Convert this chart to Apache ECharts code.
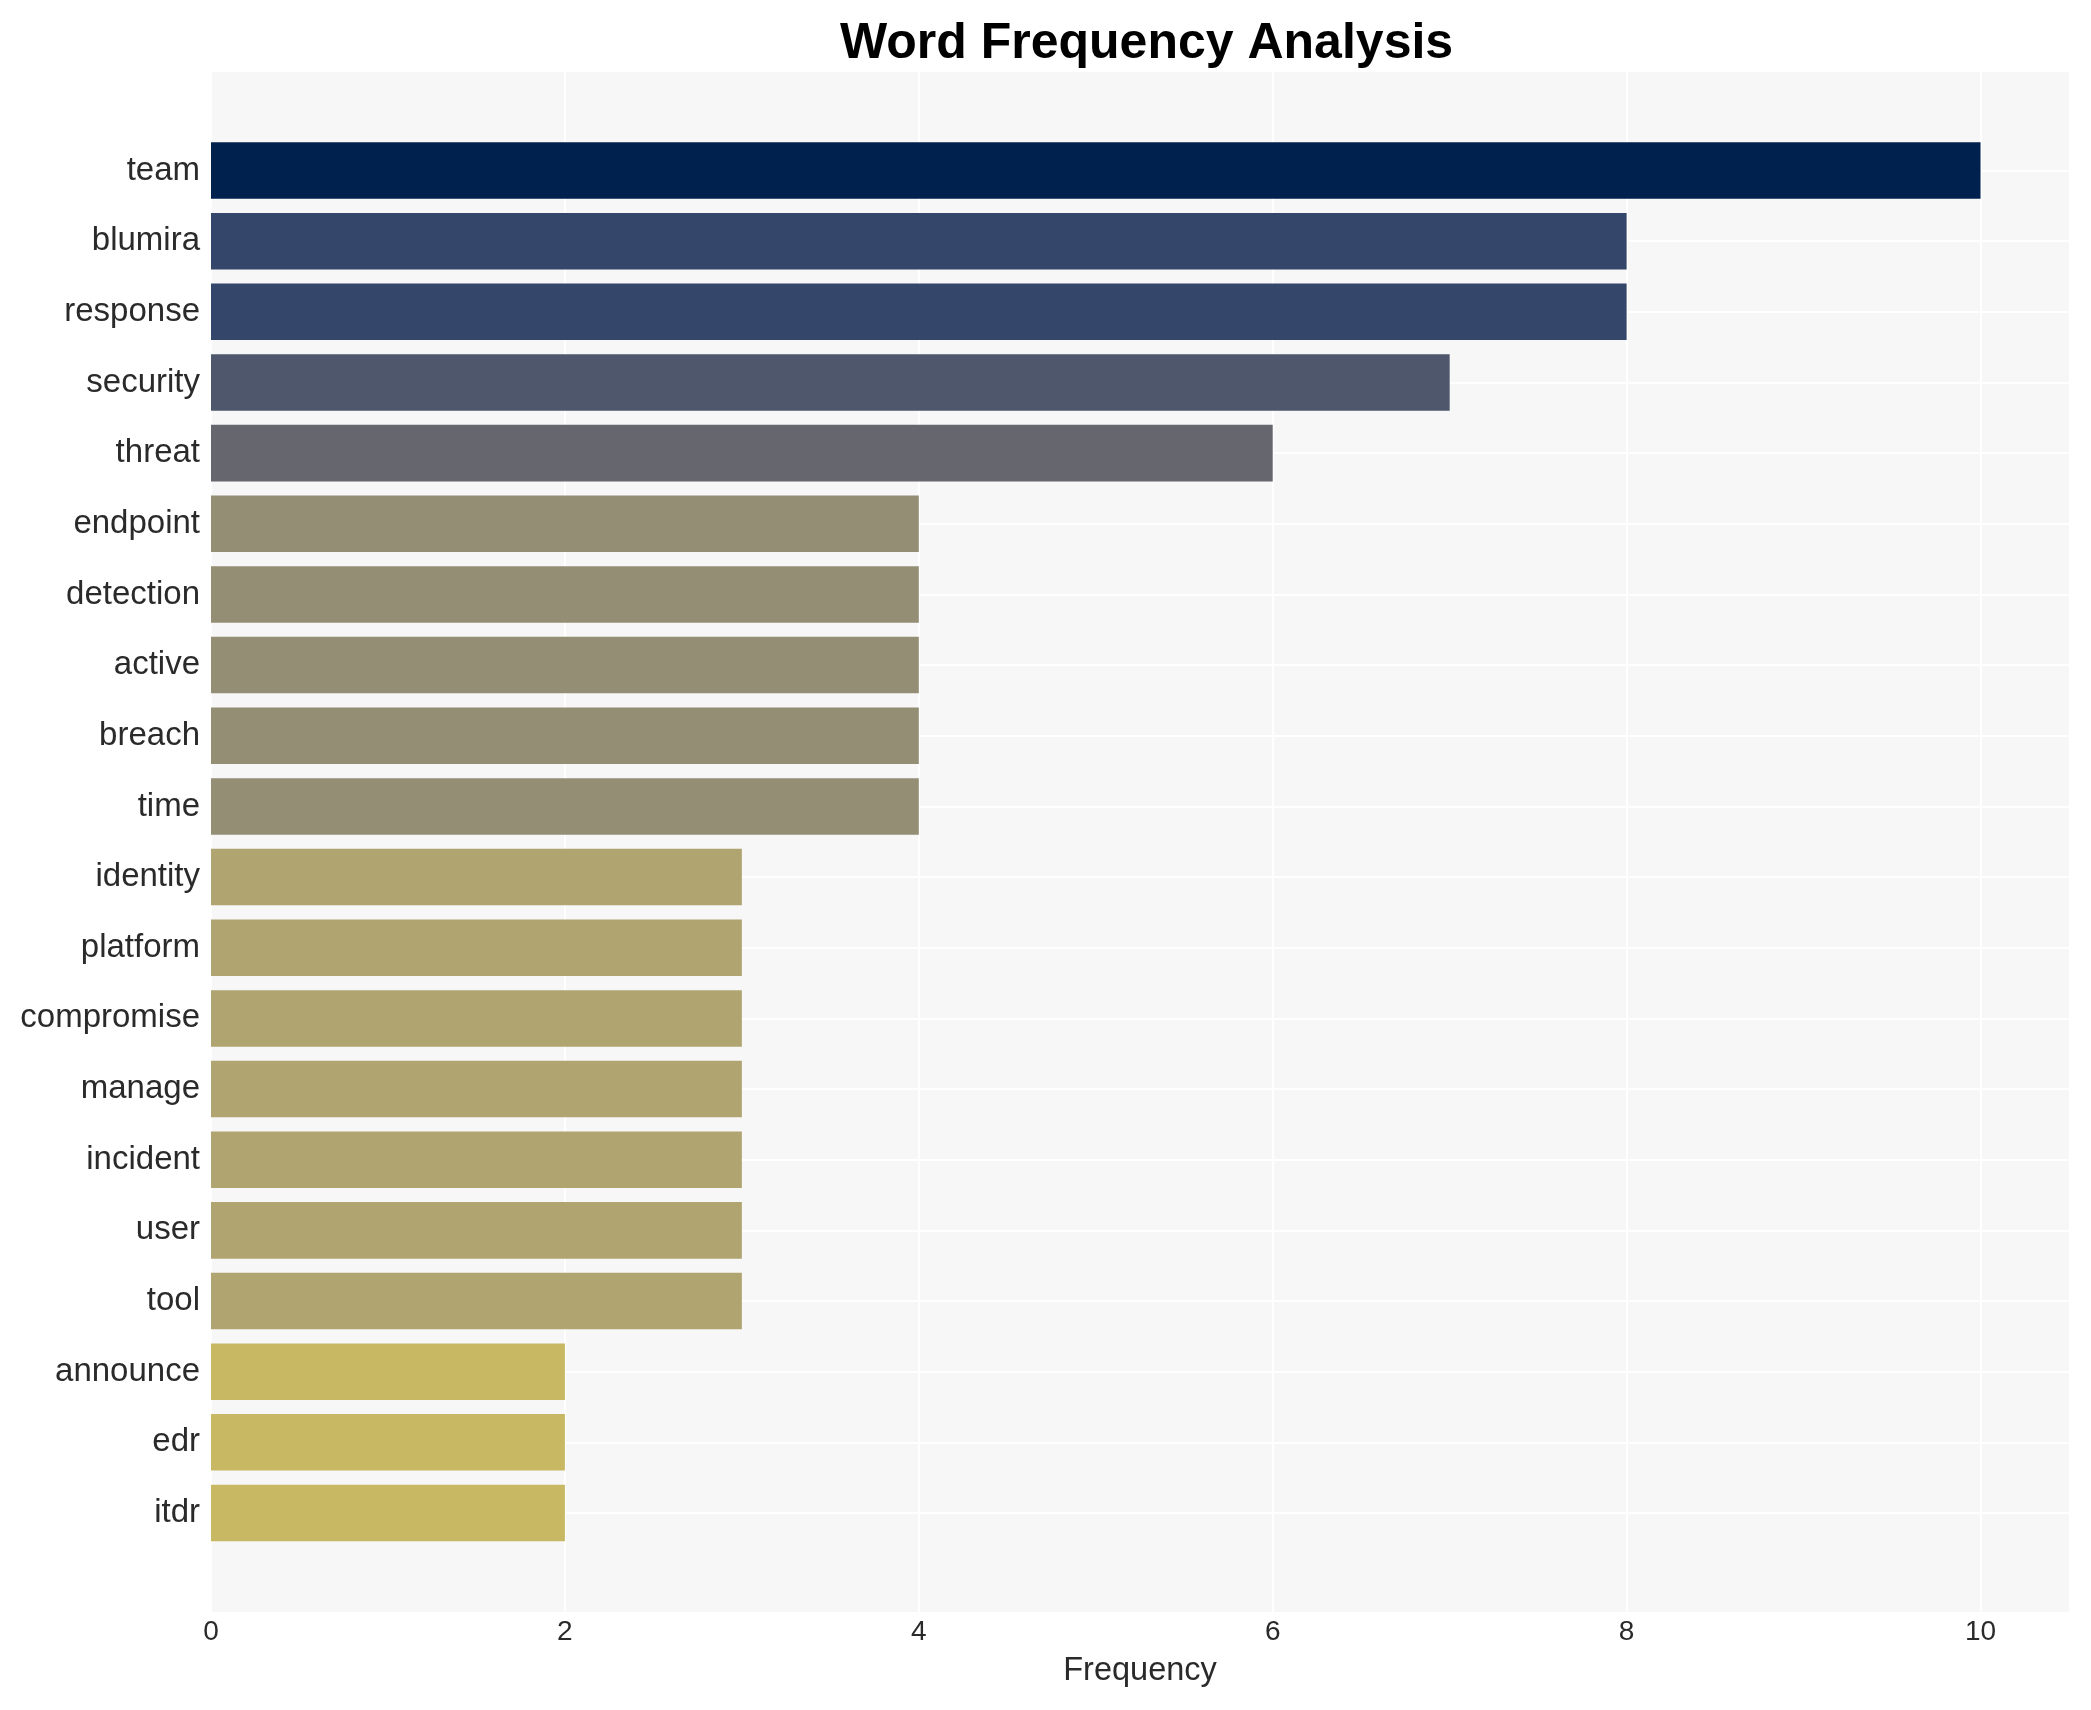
<!DOCTYPE html>
<html>
<head>
<meta charset="utf-8">
<script src="https://cdn.jsdelivr.net/npm/echarts@6/dist/echarts.min.js"></script>
<style>
html,body{margin:0;padding:0;background:#ffffff;}
#chart{width:2091px;height:1710px;}
</style>
</head>
<body>
<div id="chart"></div>
<script>
const words = ['team','blumira','response','security','threat','endpoint','detection','active','breach','time','identity','platform','compromise','manage','incident','user','tool','announce','edr','itdr'];
const frequencies = [10,8,8,7,6,4,4,4,4,4,3,3,3,3,3,3,3,2,2,2];
const xTicks = [0,2,4,6,8,10];

const colorByValue = {10:'#00214e',8:'#35466b',7:'#4e576b',6:'#65666e',4:'#948e74',3:'#b0a470',2:'#c8b864'};
const FONT = '"Liberation Sans", Arial, Helvetica, sans-serif';

const chart = echarts.init(document.getElementById('chart'), null, {renderer:'canvas'});
chart.setOption({
  backgroundColor:'#ffffff',
  animation:false,
  title:{
    text:'Word Frequency Analysis',
    left:835, top:14,
    textStyle:{fontFamily:FONT,fontSize:50,fontWeight:'bold',color:'#000000'}
  },
  grid:[
    {left:211,right:22,top:72,bottom:98,show:true,backgroundColor:'#f7f7f7',borderWidth:0},
    {left:211,right:22,top:170.5,bottom:197,show:false}
  ],
  xAxis:[
    {gridIndex:0,type:'value',min:0,max:10.5,interval:2,
     axisLine:{show:false},axisTick:{show:false},
     axisLabel:{fontFamily:FONT,fontSize:28,color:'#2a2a2a',margin:6,showMaxLabel:false,
       formatter:function(v){return xTicks.indexOf(v)>=0?String(v):'';}},
     splitLine:{show:true,showMaxLine:false,lineStyle:{color:'#ffffff',width:2}},
     name:'Frequency',nameLocation:'middle',nameGap:43,
     nameTextStyle:{fontFamily:FONT,fontSize:32.5,color:'#2a2a2a'}},
    {gridIndex:1,type:'value',min:0,max:10.5,show:false,splitLine:{show:false}}
  ],
  yAxis:[
    {gridIndex:0,type:'value',min:0,max:1,show:false,splitLine:{show:false}},
    {gridIndex:1,type:'category',data:words,inverse:true,boundaryGap:false,
     axisLine:{show:false},axisTick:{show:false},
     axisLabel:{fontFamily:FONT,fontSize:33,color:'#2a2a2a',margin:11},
     splitLine:{show:true,lineStyle:{color:'#ffffff',width:2}}}
  ],
  series:[{
    type:'bar',xAxisIndex:1,yAxisIndex:1,
    data:frequencies,
    barWidth:'80%',clip:false,
    itemStyle:{color:function(p){return colorByValue[p.value]||'#948e74';}}
  }]
});
</script>
</body>
</html>
